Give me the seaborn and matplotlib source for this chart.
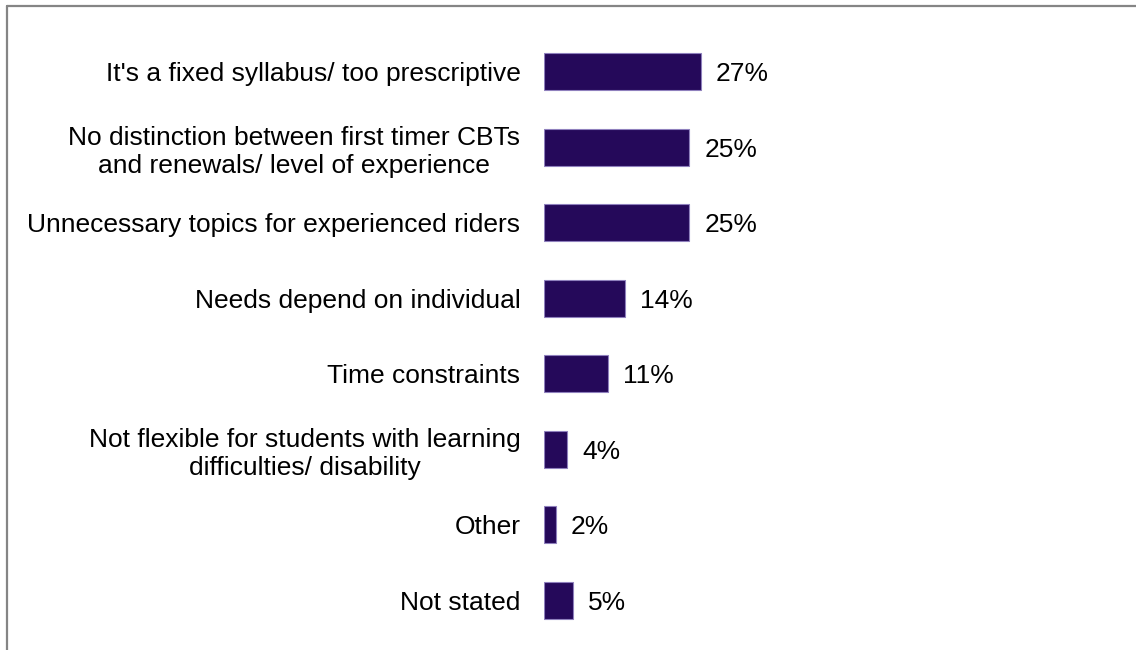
import matplotlib
matplotlib.use("Agg")
import matplotlib.pyplot as plt
import seaborn as sns
import pandas as pd
from matplotlib.lines import Line2D

categories = [
    "It's a fixed syllabus/ too prescriptive",
    "No distinction between first timer CBTs\nand renewals/ level of experience",
    "Unnecessary topics for experienced riders",
    "Needs depend on individual",
    "Time constraints",
    "Not flexible for students with learning\ndifficulties/ disability",
    "Other",
    "Not stated",
]
values = [27, 25, 25, 14, 11, 4, 2, 5]
value_labels = ["27%", "25%", "25%", "14%", "11%", "4%", "2%", "5%"]

bar_color = "#25095a"

sns.set_theme(style="white")
plt.rcParams['font.family'] = ['Liberation Sans', 'DejaVu Sans']

df = pd.DataFrame({"category": categories, "value": values})

W, H = 1136, 650
fig = plt.figure(figsize=(W / 100, H / 100), dpi=100)
ax = fig.add_axes([544 / W, 1 - 638 / H, (1124 - 544) / W, (638 - 34) / H])

sns.barplot(data=df, y="category", x="value", orient="h", color=bar_color,
            saturation=1, width=0.49, edgecolor="#8f80bd", linewidth=0.8, ax=ax)

ax.set_xlim(0, 100)
ax.set_ylim(7.5, -0.5)
ax.set_xlabel("")
ax.set_ylabel("")
ax.set_xticks([])
for s in ax.spines.values():
    s.set_visible(False)
ax.tick_params(axis="y", length=0, pad=17)
for lab in ax.get_yticklabels():
    lab.set_fontsize(19)
    lab.set_multialignment("center")
    lab.set_linespacing(1.2)
    lab.set_color("#000000")

for container in ax.containers:
    anns = ax.bar_label(container, labels=value_labels, padding=11, fontsize=19, color="#000000")
    for a in anns:
        a.set_va("center_baseline")

fig.add_artist(Line2D([7 / W, 1.0], [1 - 6 / H, 1 - 6 / H], transform=fig.transFigure,
                      color="#858585", linewidth=1.6))
fig.add_artist(Line2D([7 / W, 7 / W], [1 - 6 / H, 0.0], transform=fig.transFigure,
                      color="#858585", linewidth=1.6))

fig.savefig("out.png", dpi=100, facecolor="white")
